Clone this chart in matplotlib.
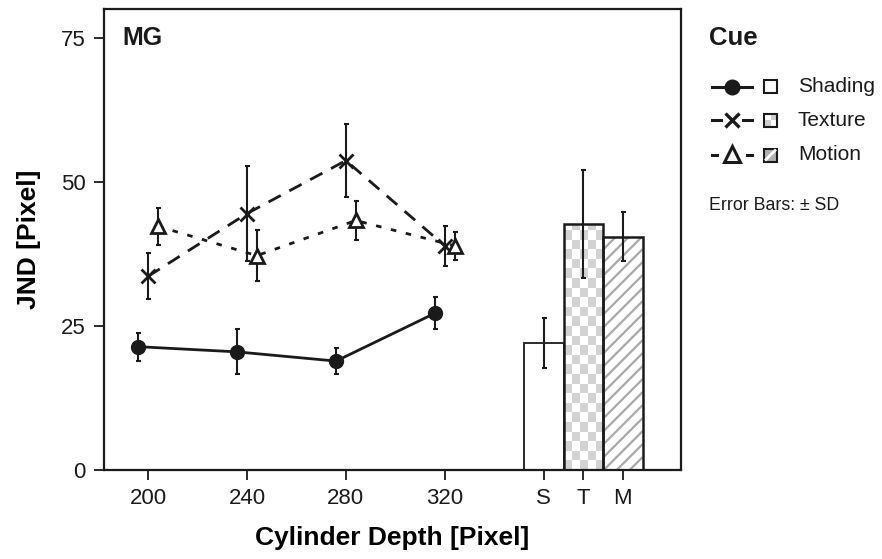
import numpy as np
import matplotlib
matplotlib.use("Agg")
import matplotlib.pyplot as plt
from matplotlib.patches import Rectangle

plt.rcParams['font.family'] = ['Liberation Sans', 'DejaVu Sans']

# cylinder depth conditions (pixel)
depths = [200, 240, 280, 320]

# JND means and SDs per cue
shading_mean = [21.4, 20.5, 18.9, 27.2]
shading_sd = [2.4, 3.9, 2.2, 2.8]
texture_mean = [33.6, 44.5, 53.7, 38.9]
texture_sd = [4.0, 8.2, 6.35, 3.45]
motion_mean = [42.3, 37.2, 43.3, 38.9]
motion_sd = [3.2, 4.45, 3.45, 2.45]

# pooled over depths
bar_labels = ['S', 'T', 'M']
bar_pos = [360, 376, 392]
bar_mean = [22.0, 42.7, 40.5]
bar_sd = [4.3, 9.4, 4.25]

W, H = 882, 559
fig = plt.figure(figsize=(W / 100, H / 100), dpi=100)
ax_l, ax_r, ax_t, ax_b = 103.5, 681, 9, 470
ax = fig.add_axes([ax_l / W, 1 - ax_b / H, (ax_r - ax_l) / W, (ax_b - ax_t) / H])
ink = '#1a1a1a'
XL = (182, 415.5)
YL = (0, 80)
# pixels per data unit
sx = (ax_r - ax_l) / (XL[1] - XL[0])
sy = (ax_b - ax_t) / (YL[1] - YL[0])

eb = dict(fmt='none', ecolor=ink, elinewidth=1.5, capsize=1.8, capthick=1.5, zorder=3)
off = 4
xs = np.array(depths)
ax.plot(xs - off, shading_mean, color=ink, lw=2, ls='-', marker='o', ms=10,
        mfc=ink, mec=ink, zorder=4)
ax.errorbar(xs - off, shading_mean, yerr=shading_sd, **eb)
ax.plot(xs, texture_mean, color=ink, lw=2, ls=(0, (5, 3.5)), marker='x', ms=9.5,
        mew=2, mec=ink, zorder=4)
ax.errorbar(xs, texture_mean, yerr=texture_sd, **eb)
ax.plot(xs + off, motion_mean, color=ink, lw=2, ls=(0, (2, 3.5)), marker='^', ms=10.5,
        mew=2, mfc='white', mec=ink, zorder=4)
ax.errorbar(xs + off, motion_mean, yerr=motion_sd, **eb)

ax.set_xlim(*XL)
ax.set_ylim(*YL)

bars = ax.bar(bar_pos, bar_mean, width=16, color='white', edgecolor='none', zorder=2)

# checkerboard fill for texture bar
bt = bars[1]
cw, ch = 8 / sx, 9.6 / sy
x0 = bt.get_x()
ncol = int(np.ceil(16 / cw))
nrow = int(np.ceil(bt.get_height() / ch))
for i in range(nrow):
    for j in range(ncol):
        if (i + j) % 2 == 0:
            r = Rectangle((x0 + j * cw, i * ch), cw, ch, facecolor='#d3d3d3',
                          lw=0, zorder=2.2)
            ax.add_patch(r)
            r.set_clip_path(bt)

# diagonal stripes for motion bar
bm = bars[2]
slope = sx / sy
gap = 13 / sx
xa, xb = bm.get_x(), bm.get_x() + 16
c = xa - bm.get_height() / slope
while c < xb:
    ln, = ax.plot([xa, xb], [slope * (xa - c), slope * (xb - c)], color='#a8a8a8',
                  lw=1.6, zorder=2.3, solid_capstyle='butt')
    ln.set_clip_path(bm)
    c += gap

ax.bar(bar_pos, bar_mean, width=16, color='none', edgecolor=ink,
       linewidth=[1.3, 1.8, 1.8], zorder=2.5)
ax.errorbar(bar_pos, bar_mean, yerr=bar_sd, **eb)

ax.set_xlim(*XL)
ax.set_ylim(*YL)
ax.set_xticks(depths + bar_pos)
ax.set_xticklabels([str(d) for d in depths] + bar_labels)
ax.set_yticks([0, 25, 50, 75])
ax.tick_params(labelsize=16, width=1.3, length=7, color=ink, labelcolor=ink, pad=6)
for s in ax.spines.values():
    s.set_linewidth(1.6)
    s.set_color(ink)
ax.set_xlabel('Cylinder Depth [Pixel]', fontsize=19, fontweight='bold', labelpad=12)
ax.set_ylabel('JND [Pixel]', fontsize=19, fontweight='bold', labelpad=14)

# overlay for panel tag and legend, in pixel coordinates
lg = fig.add_axes([0, 0, 1, 1])
lg.set_xlim(0, W)
lg.set_ylim(H, 0)
lg.axis('off')
lg.patch.set_alpha(0)

lg.text(122, 38, 'MG', fontsize=18, fontweight='bold', va='center', ha='left', color=ink)
lg.text(709, 38, 'Cue', fontsize=18.5, fontweight='bold', va='center', ha='left', color=ink)

rows = [86.7, 120, 155]
names = ['Shading', 'Texture', 'Motion']
# shading handle
lg.plot([712, 752], [rows[0]] * 2, color=ink, lw=2.2)
lg.plot([732], [rows[0]], marker='o', ms=10.5, color=ink)
# texture handle
lg.plot([712, 721], [rows[1]] * 2, color=ink, lw=2.2)
lg.plot([743, 752], [rows[1]] * 2, color=ink, lw=2.2)
lg.plot([732], [rows[1]], marker='x', ms=10, mew=2.4, color=ink)
# motion handle
lg.plot([712, 717], [rows[2]] * 2, color=ink, lw=2.2)
lg.plot([747, 752], [rows[2]] * 2, color=ink, lw=2.2)
lg.plot([732], [rows[2] - 1], marker='^', ms=11.5, mew=2.2, mfc='white', mec=ink)

sq = 13
for i, r in enumerate(rows):
    sx0, sy0 = 764, r - sq / 2
    if i == 1:
        lg.add_patch(Rectangle((sx0 + sq / 2, sy0), sq / 2, sq / 2, color='#cfcfcf', lw=0))
        lg.add_patch(Rectangle((sx0, sy0 + sq / 2), sq / 2, sq / 2, color='#cfcfcf', lw=0))
    if i == 2:
        lg.add_patch(Rectangle((sx0, sy0), sq, sq, facecolor='#b0b0b0', lw=0))
        lg.plot([sx0 + 2, sx0 + sq - 2], [sy0 + sq - 2, sy0 + 2], color='white', lw=2)
    lg.add_patch(Rectangle((sx0, sy0), sq, sq, facecolor='none', edgecolor=ink, lw=1.5))
    lg.text(798, r, names[i], fontsize=15, va='center', ha='left', color=ink)

lg.text(709, 205, 'Error Bars: \u00b1 SD', fontsize=12.8, va='center', ha='left', color=ink)

fig.savefig('out.png', dpi=100)
